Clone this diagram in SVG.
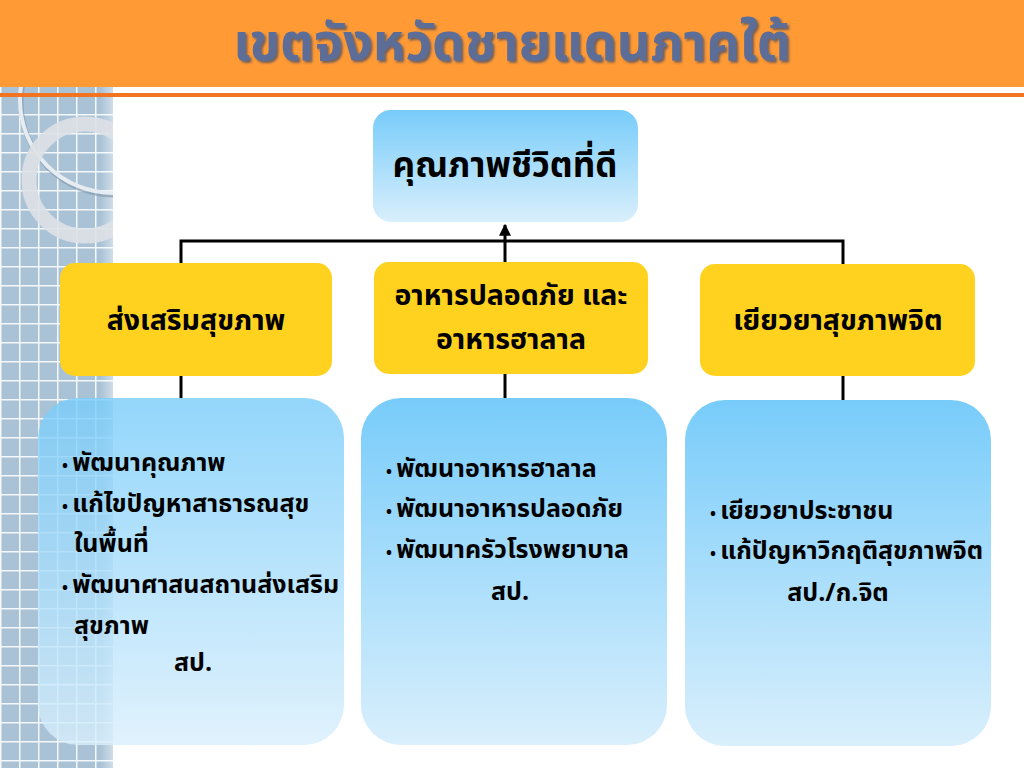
<svg xmlns="http://www.w3.org/2000/svg" width="1024" height="768" viewBox="0 0 1024 768">
<defs>
  <pattern id="grid" x="0" y="0" width="19" height="19" patternUnits="userSpaceOnUse">
    <rect width="19" height="19" fill="#A9C2D6"/>
    <path d="M0 0.75H19M0.75 0V19" stroke="#F4F8FB" stroke-width="1.5"/>
  </pattern>
  <clipPath id="pclip"><rect x="0" y="87" width="113" height="681"/></clipPath>
  <linearGradient id="edge" x1="0" y1="0" x2="1" y2="0">
    <stop offset="0" stop-color="#ffffff" stop-opacity="0"/>
    <stop offset="1" stop-color="#ffffff" stop-opacity="0.45"/>
  </linearGradient>
  <linearGradient id="blue" x1="0" y1="0" x2="0" y2="1">
    <stop offset="0" stop-color="#78CCFA"/>
    <stop offset="1" stop-color="#D9EFFC"/>
  </linearGradient>
  <marker id="arr" viewBox="0 0 10 10" refX="9" refY="5" markerWidth="4" markerHeight="4" orient="auto">
    <path d="M0 0L10 5L0 10Z" fill="#000"/>
  </marker>
  <filter id="sh" x="-5%" y="-20%" width="110%" height="140%">
    <feDropShadow dx="2" dy="2" stdDeviation="1" flood-color="#3a4766" flood-opacity="0.7"/>
  </filter>
</defs>
<style>
  text { font-family: "Noto Sans Thai", "Noto Sans", "DejaVu Sans", sans-serif; font-weight: bold; fill: #000; }
  .lbl { font-size: 28.5px; text-anchor: middle; }
  .item { font-size: 25px; }
  .b { font-size: 16px; }
  .yel { fill: #FFD21F; }
  .bl { fill: url(#blue); }
  .ln { stroke: #000; stroke-width: 3; fill: none; }
</style>
<rect width="1024" height="768" fill="#fff"/>
<!-- left decorative panel -->
<g id="panel" clip-path="url(#pclip)">
  <rect x="0" y="87" width="113" height="681" fill="url(#grid)"/>
  <rect x="100" y="87" width="13" height="681" fill="url(#edge)"/>
  <circle cx="113" cy="100" r="93" fill="none" stroke="#7F96AA" stroke-width="5" opacity="0.6" transform="translate(1,2)"/>
  <circle cx="113" cy="100" r="93" fill="none" stroke="#E6ECF1" stroke-width="4"/>
  <circle cx="85" cy="180" r="56" fill="none" stroke="#DDE1E5" stroke-width="15" opacity="0.9"/>
</g>
<!-- title bar -->
<g id="title">
  <rect x="0" y="0" width="1024" height="87" fill="#FF9A35"/>
  <rect x="0" y="93" width="1024" height="4" fill="#F27320"/>
  <text x="512" y="60" text-anchor="middle" font-size="52" style="fill:#5B6E98" filter="url(#sh)">เขตจังหวัดชายแดนภาคใต้</text>
</g>
<!-- connectors -->
<g id="connectors">
  <path class="ln" d="M181 263V241H843V264"/>
  <path class="ln" d="M505 262V225" marker-end="url(#arr)"/>
  <path class="ln" d="M181 376V398"/>
  <path class="ln" d="M505 374V398"/>
  <path class="ln" d="M843 376V400"/>
</g>
<g id="top">
  <rect x="373" y="110" width="265" height="112" rx="18" class="bl"/>
  <text class="lbl" x="505" y="177" style="font-size:35px">คุณภาพชีวิตที่ดี</text>
</g>
<g id="promote">
  <rect x="60" y="263" width="272" height="113" rx="15" class="yel"/>
  <text class="lbl" x="196" y="330">ส่งเสริมสุขภาพ</text>
</g>
<g id="food">
  <rect x="374" y="262" width="274" height="112" rx="15" class="yel"/>
  <text class="lbl" x="511" y="305">อาหารปลอดภัย และ</text>
  <text class="lbl" x="511" y="349">อาหารฮาลาล</text>
</g>
<g id="mental">
  <rect x="700" y="264" width="275" height="112" rx="15" class="yel"/>
  <text class="lbl" x="838" y="330">เยียวยาสุขภาพจิต</text>
</g>
<g id="promote-detail">
  <rect x="38" y="398" width="306" height="347" rx="40" class="bl" opacity="0.8"/>
  <text class="item" x="62" y="471"><tspan class="b">• </tspan>พัฒนาคุณภาพ</text>
  <text class="item" x="62" y="512"><tspan class="b">• </tspan>แก้ไขปัญหาสาธารณสุข</text>
  <text class="item" x="74" y="552">ในพื้นที่</text>
  <text class="item" x="62" y="593"><tspan class="b">• </tspan>พัฒนาศาสนสถานส่งเสริม</text>
  <text class="item" x="74" y="634">สุขภาพ</text>
  <text class="item" x="193" y="671" text-anchor="middle">สป.</text>
</g>
<g id="food-detail">
  <rect x="361" y="398" width="306" height="347" rx="40" class="bl"/>
  <text class="item" x="386" y="477"><tspan class="b">• </tspan>พัฒนาอาหารฮาลาล</text>
  <text class="item" x="386" y="517"><tspan class="b">• </tspan>พัฒนาอาหารปลอดภัย</text>
  <text class="item" x="386" y="558"><tspan class="b">• </tspan>พัฒนาครัวโรงพยาบาล</text>
  <text class="item" x="510" y="600" text-anchor="middle">สป.</text>
</g>
<g id="mental-detail">
  <rect x="685" y="400" width="306" height="346" rx="40" class="bl"/>
  <text class="item" x="710" y="519"><tspan class="b">• </tspan>เยียวยาประชาชน</text>
  <text class="item" x="710" y="559"><tspan class="b">• </tspan>แก้ปัญหาวิกฤติสุขภาพจิต</text>
  <text class="item" x="838" y="601" text-anchor="middle">สป./ก.จิต</text>
</g>
</svg>
